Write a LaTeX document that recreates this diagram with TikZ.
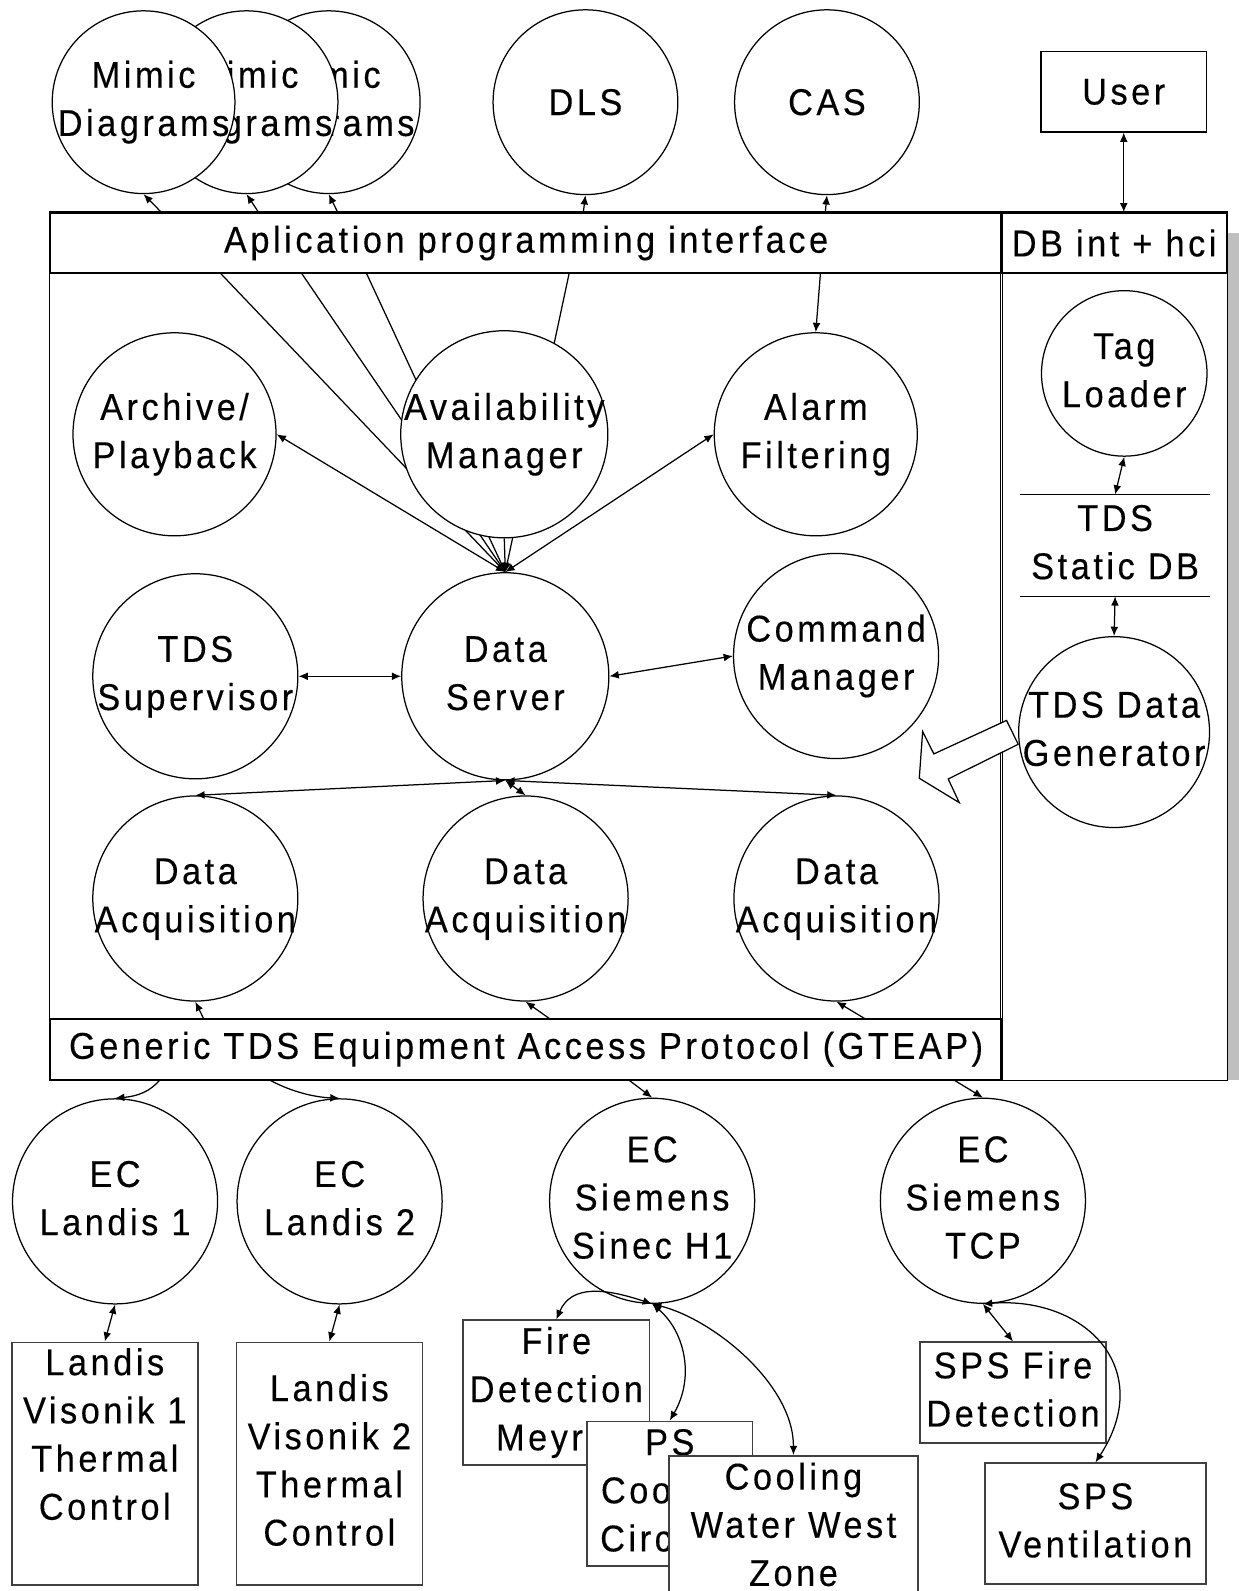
\documentclass[tikz,border=0pt]{standalone}
\usepackage{fontspec}
\setmainfont{Liberation Sans}[FakeStretch=0.92,LetterSpace=9.5,FakeBold=0.3]
\usetikzlibrary{arrows.meta}
\newcommand{\ctext}[1]{\makebox[0pt]{\begin{tabular}{@{}c@{}}#1\end{tabular}}}

\begin{document}
\begin{tikzpicture}[x=0.01cm,y=-0.01cm,line width=0.35pt,
  every node/.style={font=\fontsize{10.45}{13.5}\selectfont,inner sep=0pt},
  proc/.style={draw,circle,fill=white},
  frame/.style={draw,line width=0.45pt},
  ext/.style={draw=black!75,fill=white,line width=0.45pt},
  tip/.style={-{Latex[length=2.6pt,width=2.2pt]}},
  dbl/.style={{Latex[length=2.6pt,width=2.2pt]}-{Latex[length=2.6pt,width=2.2pt]}}]
\useasboundingbox (0,0) rectangle (1221,1568);
\fill[black!25] (1209,230) rectangle (1221,1064);
\node[frame,minimum width=9.37cm,minimum height=0.59cm] (api) at (518.5,239.5) {Aplication programming interface};
\node[frame,minimum width=9.37cm,minimum height=0.6cm] (gteap) at (518.5,1034) {Generic TDS Equipment Access Protocol (GTEAP)};
\node[frame,minimum width=2.22cm,minimum height=0.59cm] (dbint) at (1098,239.5) {DB int + hci};
\draw[frame] (api.north west) rectangle (gteap.south east);
\draw[frame] (dbint.north west) rectangle (dbint.east |- gteap.south);
\node[proc,minimum size=1.8cm] (mimicC) at (324,100.7) {\ctext{Mimic\\Diagrams}};
\node[proc,minimum size=1.8cm] (mimicB) at (243,100.7) {\ctext{Mimic\\Diagrams}};
\node[proc,minimum size=1.8cm] (mimicA) at (141.5,100.7) {\ctext{Mimic\\Diagrams}};
\node[proc,minimum size=1.82cm] (dls) at (577,100.7) {DLS};
\node[proc,minimum size=1.82cm] (cas) at (815,100.7) {CAS};
\node[draw,minimum width=1.63cm,minimum height=0.79cm] (user) at (1107.5,90.5) {User};
\node[proc,minimum size=2cm] (archive) at (172,428) {\ctext{Archive/\\Playback}};
\node[proc,minimum size=2cm] (alarm) at (804,428) {\ctext{Alarm\\Filtering}};
\node[proc,minimum size=2.02cm] (super) at (192.5,666.5) {\ctext{TDS\\Supervisor}};
\node[proc,minimum size=2.04cm] (dserver) at (498,666.5) {\ctext{Data\\Server}};
\node[proc,minimum size=2.02cm] (command) at (824,646.5) {\ctext{Command\\Manager}};
\node[proc,minimum size=2.02cm] (acqA) at (192.5,885.5) {\ctext{Data\\Acquisition}};
\node[proc,minimum size=2.02cm] (acqB) at (518,885.5) {\ctext{Data\\Acquisition}};
\node[proc,minimum size=2.02cm] (acqC) at (824.4,885.5) {\ctext{Data\\Acquisition}};
\node[proc,minimum size=1.63cm] (tagload) at (1108,368) {\ctext{Tag\\Loader}};
\node[minimum width=1.86cm,minimum height=0.99cm] (staticdb) at (1099,537.5) {\ctext{TDS\\Static DB}};
\draw (staticdb.north west) -- (staticdb.north east) (staticdb.south west) -- (staticdb.south east);
\node[proc,minimum size=1.88cm] (datagen) at (1098,721.5) {\ctext{TDS Data\\Generator}};
\draw[fill=white] (992,710) -- (920.4,743) -- (909.3,721) -- (906,767) -- (945.4,791) -- (934.5,767.7) -- (1003.5,733.5) -- cycle;
\node[proc,minimum size=2.02cm] (ecA) at (113.4,1184) {\ctext{EC\\Landis 1}};
\node[proc,minimum size=2.02cm] (ecB) at (334.7,1184) {\ctext{EC\\Landis 2}};
\node[proc,minimum size=2.02cm] (ecC) at (642.7,1183.4) {\ctext{EC\\Siemens\\Sinec H1}};
\node[proc,minimum size=2.02cm] (ecD) at (968.7,1183.4) {\ctext{EC\\Siemens\\TCP}};
\node[ext,minimum width=1.832cm,minimum height=2.39cm] (visA) at (103.3,1442.5) {};
\node (visAtext) at (103.3,1417) {\ctext{Landis\\Visonik 1\\Thermal\\Control}};
\node[ext,minimum width=1.832cm,minimum height=2.39cm] (visB) at (324.6,1442.5) {\ctext{Landis\\Visonik 2\\Thermal\\Control}};
\node[ext,minimum width=1.833cm,minimum height=1.396cm] (fireM) at (548.3,1372.3) {\ctext{Fire\\Detection\\Meyrin}};
\node[ext,minimum width=1.626cm,minimum height=1.386cm] (psCool) at (660.1,1472) {\ctext{PS\\Cooling\\Circuits}};
\node[ext,minimum width=2.448cm,minimum height=1.28cm] (cwwz) at (782,1506) {\ctext{Cooling\\Water West\\Zone}};
\node[ext,minimum width=1.833cm,minimum height=0.995cm] (spsFire) at (998.4,1372.6) {\ctext{SPS Fire\\Detection}};
\node[ext,minimum width=2.178cm,minimum height=1.19cm] (spsVent) at (1079.6,1501.6) {\ctext{SPS\\Ventilation}};
\coordinate (apA) at (159.8,210);
\coordinate (apB) at (255.3,210);
\coordinate (apC) at (333.2,210);
\coordinate (apD) at (574.8,210);
\coordinate (apE) at (813.3,210);
\coordinate (afA) at (217,269);
\coordinate (afB) at (297,269);
\coordinate (afC) at (361,269);
\coordinate (afD) at (561,269);
\coordinate (afE) at (808.6,269);
\coordinate (gtA) at (200.7,1004);
\coordinate (gtB) at (541.7,1004);
\coordinate (gtC) at (852.5,1004);
\coordinate (gbA) at (157.8,1064);
\coordinate (gbB) at (265,1064);
\coordinate (gbC) at (619.2,1064);
\coordinate (gbD) at (939.5,1064);
\draw[tip] (apA) -- (mimicA.south);
\draw[tip] (apB) -- (mimicB.south);
\draw[tip] (apC) -- (mimicC.south);
\draw[tip] (apD) -- (dls.south);
\draw[tip] (apE) -- (cas.south);
\draw[dbl] (user.south) -- (user.south |- dbint.north);
\draw[tip] (afA) -- (dserver.north);
\draw[tip] (afB) -- (dserver.north);
\draw[tip] (afC) -- (dserver.north);
\draw[tip] (afD) -- (dserver.north);
\draw[dbl] (dserver.north) -- (archive.east);
\draw[dbl] (dserver.north) -- (alarm.west);
\draw[tip] (afE) -- (alarm.north);
\node[proc,minimum size=2.04cm] (avail) at (497,428) {\ctext{Availability\\Manager}};
\draw[tip] (avail.south) -- (dserver.north);
\draw[dbl] (super.east) -- (dserver.west);
\draw[dbl] (dserver.east) -- (command.west);
\draw[dbl] (dserver.south) -- (acqA.north);
\draw[dbl] (dserver.south) -- (acqB.north);
\draw[dbl] (dserver.south) -- (acqC.north);
\draw[tip] (gtA) -- (acqA.south);
\draw[tip] (gtB) -- (acqB.south);
\draw[tip] (gtC) -- (acqC.south);
\draw[dbl] (tagload.south) -- (staticdb.north);
\draw[dbl] (staticdb.south) -- (datagen.north);
\draw[tip] (gbA) .. controls +(-10,12) and +(22,-2) .. (ecA.north);
\draw[tip] (gbB) .. controls +(22,12) and +(-25,-1) .. (ecB.north);
\draw[tip] (gbC) -- (ecC.north);
\draw[tip] (gbD) -- (ecD.north);
\draw[dbl] (ecA.south) -- (visA.north);
\draw[dbl] (ecB.south) -- (visB.north);
\draw[dbl] (fireM.north) .. controls +(15,-35) and +(-45,-15) .. (ecC.south);
\draw[dbl] (ecC.south) .. controls +(32,27) and +(25,-43) .. (psCool.north);
\draw[dbl] (ecC.south) .. controls +(60,15) and +(0,-70) .. (cwwz.north);
\draw[dbl] (ecD.south) -- (spsFire.north);
\draw[dbl] (ecD.south) .. controls +(101,-8) and +(60,-92) .. (spsVent.north);
\end{tikzpicture}
\end{document}
